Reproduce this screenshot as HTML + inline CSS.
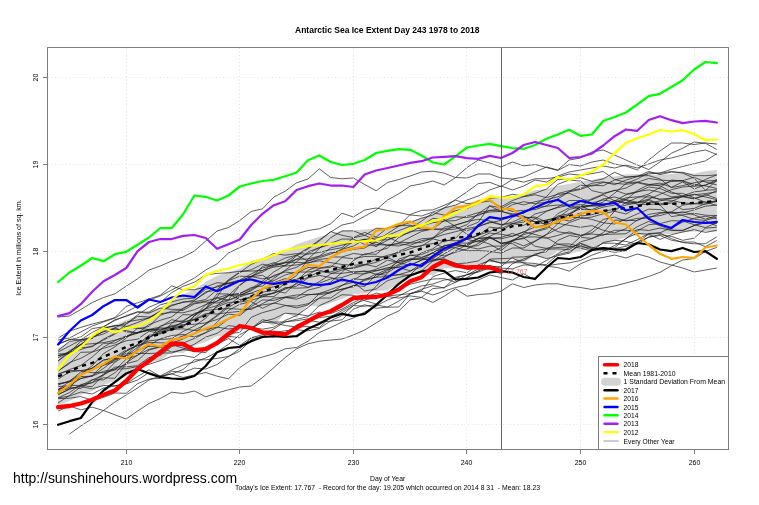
<!DOCTYPE html>
<html><head><meta charset="utf-8"><title>Antarctic Sea Ice Extent</title>
<style>html,body{margin:0;padding:0;background:#fff}svg{display:block}text{font-family:"Liberation Sans",Arial,sans-serif;fill:#000}</style></head><body>
<svg width="759" height="505" viewBox="0 0 759 505">
<rect width="759" height="505" fill="#fff"/>
<path d="M58.1 348.2 L69.5 341.5 L80.8 339.0 L92.2 335.7 L103.5 327.4 L114.9 325.0 L126.2 320.0 L137.6 315.8 L149.0 310.8 L160.3 307.4 L171.7 301.5 L183.0 294.5 L194.4 289.6 L205.7 281.7 L217.1 275.7 L228.5 271.8 L239.8 268.8 L251.2 260.9 L262.5 257.9 L273.9 255.0 L285.2 251.0 L296.6 244.3 L308.0 240.5 L319.3 236.8 L330.7 234.0 L342.0 230.5 L353.4 230.2 L364.7 229.5 L376.1 228.5 L387.5 227.4 L398.8 224.8 L410.2 221.5 L421.5 217.4 L432.9 214.0 L444.2 207.4 L455.6 204.9 L467.0 204.0 L478.3 200.7 L489.7 198.2 L501.0 198.6 L512.4 197.7 L523.7 194.0 L535.1 189.9 L546.5 189.0 L557.8 185.7 L569.2 184.0 L580.5 181.6 L591.9 179.9 L603.2 177.4 L614.6 176.5 L625.9 174.5 L637.3 174.0 L648.7 174.9 L660.0 174.9 L671.4 174.0 L682.7 172.4 L694.1 173.5 L705.4 171.2 L716.8 169.9 L716.8 231.6 L705.4 231.6 L694.1 231.6 L682.7 232.4 L671.4 234.0 L660.0 234.0 L648.7 235.8 L637.3 235.0 L625.9 237.4 L614.6 240.7 L603.2 243.5 L591.9 247.5 L580.5 251.2 L569.2 253.8 L557.8 251.2 L546.5 258.8 L535.1 256.0 L523.7 262.5 L512.4 258.8 L501.0 263.0 L489.7 262.0 L478.3 264.0 L467.0 266.0 L455.6 268.0 L444.2 268.3 L432.9 275.7 L421.5 272.5 L410.2 277.0 L398.8 283.5 L387.5 290.5 L376.1 291.0 L364.7 293.5 L353.4 294.0 L342.0 299.0 L330.7 303.0 L319.3 307.0 L308.0 305.0 L296.6 318.0 L285.2 313.0 L273.9 326.0 L262.5 321.0 L251.2 328.0 L239.8 330.0 L228.5 338.0 L217.1 336.0 L205.7 342.0 L194.4 345.5 L183.0 353.2 L171.7 352.0 L160.3 360.2 L149.0 361.9 L137.6 369.5 L126.2 376.0 L114.9 381.0 L103.5 385.0 L92.2 391.0 L80.8 395.0 L69.5 401.0 L58.1 405.0Z" fill="#d3d3d3"/>
<g fill="none" stroke="#1c1c1c" stroke-width="0.7" stroke-linejoin="round">
<path d="M58.1 317.0 L69.5 316.0 L80.8 309.5 L92.2 302.5 L103.5 297.5 L114.9 293.8 L126.2 286.2 L137.6 278.8 L149.0 270.0 L160.3 266.0 L171.7 261.0 L183.0 257.0 L194.4 251.0 L205.7 241.0 L217.1 231.0 L228.5 227.5 L239.8 220.5 L251.2 211.5 L262.5 208.8 L273.9 197.0 L285.2 191.2 L296.6 182.8 L308.0 179.0 L319.3 168.8 L330.7 177.5 L342.0 178.8 L353.4 178.0 L364.7 184.5 L376.1 190.8 L387.5 182.5 L398.8 179.5 L410.2 176.0 L421.5 172.0 L432.9 171.2 L444.2 173.2 L455.6 177.5 L467.0 167.5 L478.3 160.0 L489.7 163.0 L501.0 167.0 L512.4 162.0 L523.7 165.8 L535.1 164.5 L546.5 167.5 L557.8 170.5 L569.2 164.5 L580.5 166.0 L591.9 162.0 L603.2 160.0 L614.6 164.0 L625.9 166.0 L637.3 170.0 L648.7 160.0 L660.0 151.0 L671.4 143.0 L682.7 143.0 L694.1 144.5 L705.4 143.0 L716.8 144.0"/>
<path d="M58.1 340.0 L69.5 338.0 L80.8 332.0 L92.2 326.0 L103.5 322.0 L114.9 318.0 L126.2 312.0 L137.6 306.0 L149.0 300.0 L160.3 296.0 L171.7 290.0 L183.0 284.0 L194.4 278.0 L205.7 270.0 L217.1 263.8 L228.5 253.0 L239.8 247.5 L251.2 242.0 L262.5 240.0 L273.9 236.2 L285.2 235.0 L296.6 233.8 L308.0 230.5 L319.3 228.8 L330.7 223.8 L342.0 213.2 L353.4 217.0 L364.7 210.0 L376.1 208.0 L387.5 210.5 L398.8 212.5 L410.2 215.0 L421.5 216.0 L432.9 212.0 L444.2 208.0 L455.6 205.0 L467.0 200.0 L478.3 196.0 L489.7 190.0 L501.0 186.0 L512.4 190.0 L523.7 186.0 L535.1 180.0 L546.5 182.0 L557.8 176.0 L569.2 172.0 L580.5 170.0 L591.9 168.0 L603.2 166.0 L614.6 168.0 L625.9 165.0 L637.3 168.0 L648.7 164.0 L660.0 160.0 L671.4 158.0 L682.7 155.0 L694.1 152.0 L705.4 150.0 L716.8 154.5"/>
<path d="M58.1 352.0 L69.5 346.0 L80.8 340.0 L92.2 337.0 L103.5 334.0 L114.9 328.0 L126.2 322.0 L137.6 320.0 L149.0 318.0 L160.3 311.5 L171.7 305.0 L183.0 302.5 L194.4 300.0 L205.7 293.0 L217.1 286.0 L228.5 283.0 L239.8 280.0 L251.2 274.0 L262.5 268.0 L273.9 265.0 L285.2 262.0 L296.6 255.0 L308.0 248.0 L319.3 240.0 L330.7 232.0 L342.0 225.0 L353.4 222.5 L364.7 216.2 L376.1 210.0 L387.5 200.0 L398.8 193.8 L410.2 186.0 L421.5 183.8 L432.9 181.0 L444.2 185.0 L455.6 177.5 L467.0 178.0 L478.3 174.0 L489.7 174.0 L501.0 178.0 L512.4 179.0 L523.7 177.0 L535.1 172.0 L546.5 167.0 L557.8 170.0 L569.2 160.0 L580.5 158.0 L591.9 152.0 L603.2 150.0 L614.6 155.0 L625.9 160.0 L637.3 165.0 L648.7 169.5 L660.0 162.0 L671.4 153.2 L682.7 148.2 L694.1 142.0 L705.4 143.2 L716.8 149.5"/>
<path d="M58.1 411.0 L69.5 406.0 L80.8 409.8 L92.2 407.2 L103.5 410.5 L114.9 414.8 L126.2 419.0 L137.6 411.0 L149.0 403.5 L160.3 398.5 L171.7 392.2 L183.0 393.5 L194.4 391.0 L205.7 396.8 L217.1 393.0 L228.5 389.8 L239.8 387.0 L251.2 386.0 L262.5 377.5 L273.9 367.5 L285.2 357.5 L296.6 348.8 L308.0 343.8 L319.3 341.2 L330.7 340.0 L342.0 339.0 L353.4 335.0 L364.7 330.0 L376.1 323.0 L387.5 316.0 L398.8 311.0 L410.2 300.0 L421.5 297.5 L432.9 302.5 L444.2 296.2 L455.6 288.8 L467.0 296.2 L478.3 294.5 L489.7 293.8 L501.0 291.2 L512.4 283.8 L523.7 287.5 L535.1 285.0 L546.5 283.8 L557.8 283.8 L569.2 286.2 L580.5 287.5 L591.9 289.5 L603.2 288.0 L614.6 286.0 L625.9 283.0 L637.3 280.0 L648.7 276.5 L660.0 272.3 L671.4 265.7 L682.7 260.0 L694.1 258.5 L705.4 251.5 L716.8 247.4"/>
<path d="M69.5 434.0 L80.8 426.0 L92.2 418.5 L103.5 410.5 L114.9 402.0 L126.2 395.0 L137.6 388.0 L149.0 380.0 L160.3 376.0 L171.7 370.0 L183.0 365.0 L194.4 362.0 L205.7 358.0 L217.1 352.0 L228.5 344.3 L239.8 334.7 L251.2 328.4 L262.5 319.7 L273.9 322.1 L285.2 322.0 L296.6 319.3 L308.0 316.6 L319.3 305.6 L330.7 300.6 L342.0 294.7 L353.4 295.3 L364.7 300.7 L376.1 303.9 L387.5 295.5 L398.8 288.7 L410.2 284.2 L421.5 281.5 L432.9 279.0 L444.2 278.6 L455.6 282.3 L467.0 274.5 L478.3 271.4 L489.7 259.1 L501.0 258.7 L512.4 258.1 L523.7 263.2 L535.1 266.9 L546.5 260.4 L557.8 253.6 L569.2 247.9 L580.5 243.7 L591.9 248.3 L603.2 247.8 L614.6 248.6 L625.9 246.3 L637.3 242.4 L648.7 234.1 L660.0 233.1 L671.4 238.6 L682.7 242.5 L694.1 243.8 L705.4 243.7 L716.8 236.9"/>
<path d="M58.1 398.6 L69.5 398.2 L80.8 396.6 L92.2 400.2 L103.5 397.4 L114.9 393.0 L126.2 393.3 L137.6 383.7 L149.0 379.1 L160.3 378.3 L171.7 371.2 L183.0 372.5 L194.4 368.2 L205.7 369.0 L217.1 364.5 L228.5 356.4 L239.8 351.2 L251.2 339.9 L262.5 336.2 L273.9 332.4 L285.2 330.8 L296.6 329.8 L308.0 330.8 L319.3 328.5 L330.7 320.8 L342.0 315.6 L353.4 305.6 L364.7 306.2 L376.1 304.8 L387.5 307.2 L398.8 307.0 L410.2 293.8 L421.5 291.2 L432.9 295.0 L444.2 291.2 L455.6 287.5 L467.0 285.0 L478.3 280.0 L489.7 275.0 L501.0 277.5 L512.4 280.0 L523.7 273.8 L535.1 280.0 L546.5 266.2 L557.8 267.5 L569.2 271.2 L580.5 263.8 L591.9 259.0 L603.2 257.5 L614.6 255.0 L625.9 258.0 L637.3 254.0 L648.7 257.0 L660.0 262.0 L671.4 265.0 L682.7 268.0 L694.1 272.0 L705.4 270.0 L716.8 268.0"/>
<path d="M58.1 343.7 L69.5 339.8 L80.8 337.0 L92.2 328.6 L103.5 326.8 L114.9 320.5 L126.2 315.7 L137.6 311.7 L149.0 312.3 L160.3 304.8 L171.7 301.8 L183.0 299.0 L194.4 298.2 L205.7 289.2 L217.1 287.0 L228.5 283.3 L239.8 281.0 L251.2 276.2 L262.5 272.2 L273.9 265.3 L285.2 262.8 L296.6 259.2 L308.0 259.0 L319.3 256.1 L330.7 247.9 L342.0 245.1 L353.4 242.4 L364.7 239.4 L376.1 237.9 L387.5 235.5 L398.8 230.6 L410.2 226.2 L421.5 225.8 L432.9 222.7 L444.2 221.1 L455.6 220.6 L467.0 216.1 L478.3 212.6 L489.7 210.7 L501.0 208.6 L512.4 202.3 L523.7 204.9 L535.1 201.7 L546.5 199.7 L557.8 196.8 L569.2 191.9 L580.5 189.4 L591.9 185.1 L603.2 185.8 L614.6 179.9 L625.9 177.4 L637.3 176.3 L648.7 174.0 L660.0 173.0 L671.4 169.3 L682.7 166.5 L694.1 163.7 L705.4 160.9 L716.8 153.7"/>
<path d="M58.1 398.0 L69.5 396.0 L80.8 392.0 L92.2 394.0 L103.5 388.0 L114.9 386.0 L126.2 384.0 L137.6 380.0 L149.0 372.5 L160.3 376.2 L171.7 373.8 L183.0 377.5 L194.4 375.0 L205.7 372.5 L217.1 376.2 L228.5 378.8 L239.8 367.5 L251.2 360.0 L262.5 357.0 L273.9 353.8 L285.2 348.8 L296.6 347.5 L308.0 341.2 L319.3 332.5 L330.7 327.5 L342.0 322.0 L353.4 318.0 L364.7 312.0 L376.1 306.0 L387.5 300.0 L398.8 296.0 L410.2 290.0 L421.5 286.0 L432.9 284.0 L444.2 280.0 L455.6 278.4 L467.0 274.7 L478.3 269.2 L489.7 265.5 L501.0 268.1 L512.4 268.8 L523.7 264.9 L535.1 265.3 L546.5 264.5 L557.8 254.6 L569.2 251.9 L580.5 245.3 L591.9 250.3 L603.2 250.0 L614.6 252.4 L625.9 250.7 L637.3 242.3 L648.7 237.2 L660.0 235.5 L671.4 240.2 L682.7 242.1 L694.1 242.0 L705.4 246.7 L716.8 240.5"/>
<path d="M58.1 402.9 L69.5 395.5 L80.8 386.7 L92.2 388.8 L103.5 385.5 L114.9 385.7 L126.2 383.7 L137.6 376.4 L149.0 369.8 L160.3 376.3 L171.7 374.0 L183.0 369.5 L194.4 359.8 L205.7 359.8 L217.1 358.4 L228.5 356.5 L239.8 348.8 L251.2 338.0 L262.5 336.7 L273.9 336.9 L285.2 333.3 L296.6 325.0 L308.0 320.3 L319.3 322.2 L330.7 321.1 L342.0 319.8 L353.4 309.2 L364.7 304.7 L376.1 308.3 L387.5 307.1 L398.8 301.1 L410.2 293.8 L421.5 289.3 L432.9 285.7 L444.2 288.0 L455.6 277.2 L467.0 274.9 L478.3 272.1 L489.7 267.7 L501.0 274.2 L512.4 263.8 L523.7 258.9 L535.1 254.9 L546.5 258.6 L557.8 255.7 L569.2 253.2 L580.5 243.1 L591.9 247.4 L603.2 249.7 L614.6 247.7 L625.9 238.3 L637.3 233.3 L648.7 234.3 L660.0 239.4 L671.4 234.7 L682.7 232.0 L694.1 229.7 L705.4 232.4 L716.8 230.3"/>
<path d="M58.1 338.1 L69.5 331.2 L80.8 327.4 L92.2 324.0 L103.5 321.2 L114.9 317.6 L126.2 306.3 L137.6 302.8 L149.0 299.0 L160.3 295.2 L171.7 285.9 L183.0 289.9 L194.4 289.7 L205.7 287.0 L217.1 282.7 L228.5 283.8 L239.8 281.4 L251.2 276.5 L262.5 278.9 L273.9 276.6 L285.2 270.7 L296.6 267.3 L308.0 260.8 L319.3 256.4 L330.7 252.7 L342.0 251.9 L353.4 249.3 L364.7 248.0 L376.1 241.3 L387.5 233.5 L398.8 226.3 L410.2 222.4 L421.5 218.3 L432.9 215.0 L444.2 207.8 L455.6 199.5 L467.0 191.8 L478.3 183.6 L489.7 182.3 L501.0 186.6 L512.4 179.5 L523.7 182.2 L535.1 178.8 L546.5 178.6 L557.8 177.1 L569.2 174.0 L580.5 175.2 L591.9 173.6 L603.2 171.5 L614.6 179.5 L625.9 182.4 L637.3 182.2 L648.7 184.3 L660.0 185.8 L671.4 191.9 L682.7 196.1 L694.1 198.6 L705.4 195.7 L716.8 190.7"/>
<path d="M58.1 344.6 L69.5 339.4 L80.8 339.8 L92.2 332.4 L103.5 326.8 L114.9 319.7 L126.2 316.4 L137.6 312.2 L149.0 313.2 L160.3 308.1 L171.7 309.4 L183.0 309.3 L194.4 300.7 L205.7 291.8 L217.1 290.1 L228.5 280.8 L239.8 276.2 L251.2 276.5 L262.5 270.6 L273.9 263.6 L285.2 258.0 L296.6 255.2 L308.0 261.2 L319.3 257.7 L330.7 254.1 L342.0 249.2 L353.4 241.7 L364.7 239.2 L376.1 246.6 L387.5 240.1 L398.8 235.9 L410.2 228.1 L421.5 221.2 L432.9 212.7 L444.2 215.1 L455.6 210.7 L467.0 208.5 L478.3 203.6 L489.7 198.3 L501.0 197.5 L512.4 194.3 L523.7 196.3 L535.1 193.3 L546.5 189.0 L557.8 179.4 L569.2 179.1 L580.5 177.7 L591.9 181.4 L603.2 178.9 L614.6 172.3 L625.9 177.0 L637.3 176.1 L648.7 175.6 L660.0 179.0 L671.4 187.5 L682.7 185.7 L694.1 182.7 L705.4 180.9 L716.8 180.6"/>
<path d="M58.1 350.6 L69.5 341.4 L80.8 339.9 L92.2 338.4 L103.5 327.7 L114.9 326.1 L126.2 323.9 L137.6 314.9 L149.0 307.2 L160.3 302.5 L171.7 292.6 L183.0 286.3 L194.4 282.3 L205.7 274.8 L217.1 273.4 L228.5 272.8 L239.8 271.3 L251.2 271.1 L262.5 270.4 L273.9 267.1 L285.2 265.6 L296.6 259.2 L308.0 253.5 L319.3 247.8 L330.7 244.2 L342.0 242.7 L353.4 242.4 L364.7 240.4 L376.1 244.5 L387.5 245.1 L398.8 243.8 L410.2 245.3 L421.5 240.7 L432.9 238.6 L444.2 227.2 L455.6 225.1 L467.0 221.7 L478.3 214.4 L489.7 212.0 L501.0 211.4 L512.4 204.7 L523.7 201.7 L535.1 203.7 L546.5 202.1 L557.8 193.5 L569.2 190.7 L580.5 188.6 L591.9 183.2 L603.2 181.8 L614.6 184.7 L625.9 180.1 L637.3 176.6 L648.7 171.4 L660.0 174.6 L671.4 172.1 L682.7 172.3 L694.1 175.6 L705.4 175.7 L716.8 174.9"/>
<path d="M58.1 371.0 L69.5 362.5 L80.8 358.3 L92.2 352.0 L103.5 348.3 L114.9 345.0 L126.2 340.8 L137.6 339.2 L149.0 331.2 L160.3 333.4 L171.7 329.6 L183.0 326.6 L194.4 315.7 L205.7 308.6 L217.1 297.9 L228.5 294.5 L239.8 293.8 L251.2 288.6 L262.5 281.2 L273.9 271.9 L285.2 265.3 L296.6 255.9 L308.0 249.1 L319.3 240.9 L330.7 231.7 L342.0 235.3 L353.4 237.6 L364.7 232.4 L376.1 237.0 L387.5 227.8 L398.8 225.9 L410.2 214.5 L421.5 210.4 L432.9 209.9 L444.2 205.3 L455.6 200.2 L467.0 203.6 L478.3 202.6 L489.7 201.0 L501.0 206.9 L512.4 200.5 L523.7 196.7 L535.1 194.8 L546.5 197.6 L557.8 194.3 L569.2 193.2 L580.5 198.3 L591.9 203.1 L603.2 199.9 L614.6 202.1 L625.9 197.9 L637.3 196.8 L648.7 197.0 L660.0 199.1 L671.4 198.2 L682.7 196.8 L694.1 198.9 L705.4 194.5 L716.8 198.5"/>
<path d="M58.1 355.7 L69.5 351.8 L80.8 344.6 L92.2 336.8 L103.5 328.6 L114.9 325.3 L126.2 326.2 L137.6 328.7 L149.0 326.5 L160.3 315.2 L171.7 311.2 L183.0 310.4 L194.4 303.9 L205.7 301.9 L217.1 303.1 L228.5 299.7 L239.8 285.5 L251.2 276.6 L262.5 275.3 L273.9 282.6 L285.2 278.6 L296.6 280.8 L308.0 270.4 L319.3 266.0 L330.7 256.9 L342.0 257.0 L353.4 253.5 L364.7 254.8 L376.1 251.3 L387.5 248.1 L398.8 237.5 L410.2 231.5 L421.5 230.3 L432.9 229.0 L444.2 230.1 L455.6 229.0 L467.0 224.6 L478.3 213.6 L489.7 205.9 L501.0 211.5 L512.4 213.8 L523.7 213.4 L535.1 204.7 L546.5 196.6 L557.8 184.3 L569.2 180.0 L580.5 181.0 L591.9 190.6 L603.2 193.3 L614.6 190.5 L625.9 188.1 L637.3 182.2 L648.7 178.5 L660.0 180.1 L671.4 180.8 L682.7 180.9 L694.1 186.3 L705.4 179.4 L716.8 174.9"/>
<path d="M58.1 357.7 L69.5 351.9 L80.8 349.5 L92.2 345.9 L103.5 340.1 L114.9 334.1 L126.2 326.6 L137.6 322.5 L149.0 317.8 L160.3 311.0 L171.7 305.9 L183.0 301.8 L194.4 301.8 L205.7 299.5 L217.1 289.6 L228.5 279.7 L239.8 272.0 L251.2 269.8 L262.5 264.2 L273.9 266.4 L285.2 262.6 L296.6 262.3 L308.0 263.0 L319.3 259.4 L330.7 258.1 L342.0 249.4 L353.4 246.0 L364.7 239.4 L376.1 242.5 L387.5 245.2 L398.8 246.0 L410.2 243.0 L421.5 242.5 L432.9 237.6 L444.2 231.2 L455.6 224.9 L467.0 221.5 L478.3 219.3 L489.7 220.9 L501.0 224.5 L512.4 223.7 L523.7 225.4 L535.1 218.9 L546.5 211.3 L557.8 207.0 L569.2 200.5 L580.5 200.6 L591.9 199.8 L603.2 194.9 L614.6 200.9 L625.9 202.6 L637.3 197.7 L648.7 194.0 L660.0 187.4 L671.4 180.1 L682.7 180.9 L694.1 184.3 L705.4 185.9 L716.8 188.5"/>
<path d="M58.1 353.9 L69.5 353.9 L80.8 344.7 L92.2 343.7 L103.5 342.6 L114.9 340.3 L126.2 337.0 L137.6 332.4 L149.0 329.4 L160.3 327.0 L171.7 319.7 L183.0 322.1 L194.4 318.9 L205.7 308.4 L217.1 293.8 L228.5 294.0 L239.8 299.6 L251.2 297.9 L262.5 292.1 L273.9 290.4 L285.2 293.1 L296.6 282.9 L308.0 277.1 L319.3 271.9 L330.7 271.9 L342.0 268.5 L353.4 268.4 L364.7 265.1 L376.1 262.3 L387.5 257.3 L398.8 251.4 L410.2 246.6 L421.5 246.2 L432.9 238.8 L444.2 241.8 L455.6 238.1 L467.0 226.7 L478.3 222.2 L489.7 205.8 L501.0 207.7 L512.4 211.4 L523.7 210.4 L535.1 209.6 L546.5 205.8 L557.8 198.9 L569.2 191.7 L580.5 185.2 L591.9 186.1 L603.2 182.5 L614.6 183.3 L625.9 184.3 L637.3 182.7 L648.7 185.3 L660.0 185.0 L671.4 181.4 L682.7 180.7 L694.1 177.2 L705.4 182.0 L716.8 184.9"/>
<path d="M58.1 391.1 L69.5 388.6 L80.8 374.1 L92.2 365.8 L103.5 353.6 L114.9 346.8 L126.2 338.1 L137.6 328.1 L149.0 329.5 L160.3 330.0 L171.7 326.6 L183.0 327.4 L194.4 316.2 L205.7 304.8 L217.1 296.9 L228.5 280.4 L239.8 272.5 L251.2 264.4 L262.5 259.3 L273.9 253.4 L285.2 255.2 L296.6 253.6 L308.0 254.2 L319.3 252.4 L330.7 249.7 L342.0 247.7 L353.4 237.8 L364.7 235.4 L376.1 228.3 L387.5 228.5 L398.8 225.8 L410.2 225.2 L421.5 229.3 L432.9 229.3 L444.2 228.7 L455.6 227.1 L467.0 230.8 L478.3 226.8 L489.7 221.9 L501.0 224.8 L512.4 222.1 L523.7 217.0 L535.1 218.1 L546.5 225.8 L557.8 231.7 L569.2 233.5 L580.5 235.2 L591.9 232.8 L603.2 224.0 L614.6 211.2 L625.9 202.4 L637.3 202.3 L648.7 199.1 L660.0 205.0 L671.4 202.9 L682.7 209.6 L694.1 208.4 L705.4 203.7 L716.8 200.6"/>
<path d="M58.1 360.9 L69.5 350.7 L80.8 344.3 L92.2 336.5 L103.5 331.9 L114.9 327.9 L126.2 331.8 L137.6 333.1 L149.0 329.6 L160.3 331.5 L171.7 328.2 L183.0 326.0 L194.4 319.4 L205.7 315.5 L217.1 306.9 L228.5 302.4 L239.8 302.0 L251.2 300.3 L262.5 296.9 L273.9 292.6 L285.2 283.1 L296.6 275.5 L308.0 259.1 L319.3 248.7 L330.7 237.7 L342.0 231.0 L353.4 230.8 L364.7 235.3 L376.1 240.2 L387.5 239.7 L398.8 235.5 L410.2 232.5 L421.5 225.9 L432.9 218.3 L444.2 219.7 L455.6 226.4 L467.0 234.1 L478.3 240.4 L489.7 244.1 L501.0 250.6 L512.4 241.4 L523.7 233.6 L535.1 222.5 L546.5 219.9 L557.8 217.9 L569.2 209.4 L580.5 207.0 L591.9 205.6 L603.2 202.1 L614.6 193.2 L625.9 183.6 L637.3 179.0 L648.7 172.7 L660.0 173.3 L671.4 171.5 L682.7 173.1 L694.1 178.2 L705.4 190.2 L716.8 189.7"/>
<path d="M58.1 374.1 L69.5 370.5 L80.8 370.6 L92.2 368.6 L103.5 365.3 L114.9 361.6 L126.2 351.3 L137.6 344.5 L149.0 335.2 L160.3 334.0 L171.7 323.3 L183.0 314.6 L194.4 315.0 L205.7 308.5 L217.1 300.9 L228.5 295.4 L239.8 293.4 L251.2 287.5 L262.5 286.0 L273.9 278.4 L285.2 270.2 L296.6 261.8 L308.0 251.9 L319.3 247.6 L330.7 243.4 L342.0 239.0 L353.4 239.2 L364.7 244.4 L376.1 246.1 L387.5 236.9 L398.8 242.3 L410.2 242.6 L421.5 238.8 L432.9 238.0 L444.2 234.5 L455.6 231.7 L467.0 228.6 L478.3 226.3 L489.7 222.9 L501.0 220.4 L512.4 214.8 L523.7 218.1 L535.1 217.0 L546.5 222.0 L557.8 218.7 L569.2 221.0 L580.5 216.1 L591.9 214.7 L603.2 211.3 L614.6 209.2 L625.9 205.1 L637.3 202.9 L648.7 195.2 L660.0 199.9 L671.4 200.3 L682.7 202.9 L694.1 203.8 L705.4 204.2 L716.8 201.6"/>
<path d="M58.1 355.8 L69.5 353.4 L80.8 347.7 L92.2 346.8 L103.5 339.0 L114.9 333.4 L126.2 324.2 L137.6 316.3 L149.0 317.0 L160.3 313.8 L171.7 312.4 L183.0 312.8 L194.4 309.8 L205.7 304.5 L217.1 301.2 L228.5 295.8 L239.8 294.9 L251.2 293.4 L262.5 296.7 L273.9 296.6 L285.2 288.2 L296.6 286.2 L308.0 277.9 L319.3 275.4 L330.7 277.5 L342.0 281.1 L353.4 280.1 L364.7 273.3 L376.1 269.1 L387.5 265.0 L398.8 260.7 L410.2 259.5 L421.5 258.6 L432.9 260.5 L444.2 257.2 L455.6 250.9 L467.0 244.7 L478.3 238.2 L489.7 233.1 L501.0 234.2 L512.4 236.3 L523.7 231.8 L535.1 227.0 L546.5 224.9 L557.8 213.6 L569.2 207.8 L580.5 206.0 L591.9 210.8 L603.2 207.1 L614.6 205.0 L625.9 199.8 L637.3 190.5 L648.7 184.6 L660.0 183.1 L671.4 187.3 L682.7 182.0 L694.1 188.9 L705.4 184.9 L716.8 181.2"/>
<path d="M58.1 370.8 L69.5 363.6 L80.8 352.3 L92.2 352.0 L103.5 343.3 L114.9 343.1 L126.2 336.6 L137.6 333.2 L149.0 324.6 L160.3 320.3 L171.7 316.9 L183.0 308.0 L194.4 303.1 L205.7 301.0 L217.1 297.9 L228.5 300.2 L239.8 295.0 L251.2 290.8 L262.5 283.3 L273.9 280.6 L285.2 274.9 L296.6 272.1 L308.0 272.0 L319.3 270.2 L330.7 273.2 L342.0 273.3 L353.4 271.8 L364.7 271.6 L376.1 270.4 L387.5 268.8 L398.8 261.6 L410.2 255.0 L421.5 257.3 L432.9 253.2 L444.2 256.0 L455.6 252.3 L467.0 248.9 L478.3 243.5 L489.7 236.3 L501.0 231.2 L512.4 223.7 L523.7 219.9 L535.1 221.7 L546.5 220.5 L557.8 217.0 L569.2 215.4 L580.5 206.9 L591.9 198.7 L603.2 194.3 L614.6 190.2 L625.9 194.1 L637.3 191.6 L648.7 189.9 L660.0 192.2 L671.4 196.9 L682.7 195.8 L694.1 191.9 L705.4 190.5 L716.8 180.2"/>
<path d="M58.1 361.1 L69.5 352.5 L80.8 341.3 L92.2 338.3 L103.5 331.2 L114.9 329.1 L126.2 330.6 L137.6 333.0 L149.0 330.0 L160.3 329.2 L171.7 326.8 L183.0 322.5 L194.4 319.6 L205.7 313.4 L217.1 314.0 L228.5 312.5 L239.8 311.4 L251.2 308.2 L262.5 304.9 L273.9 303.4 L285.2 297.6 L296.6 297.1 L308.0 290.2 L319.3 287.2 L330.7 282.1 L342.0 272.5 L353.4 260.5 L364.7 253.8 L376.1 254.3 L387.5 245.4 L398.8 243.1 L410.2 237.2 L421.5 231.5 L432.9 228.8 L444.2 220.7 L455.6 216.8 L467.0 217.4 L478.3 215.6 L489.7 210.2 L501.0 211.1 L512.4 215.0 L523.7 216.1 L535.1 222.1 L546.5 224.1 L557.8 223.3 L569.2 225.4 L580.5 227.3 L591.9 225.6 L603.2 230.3 L614.6 232.9 L625.9 228.6 L637.3 219.9 L648.7 216.8 L660.0 215.6 L671.4 212.2 L682.7 212.9 L694.1 209.9 L705.4 206.2 L716.8 205.0"/>
<path d="M58.1 389.6 L69.5 381.5 L80.8 371.9 L92.2 368.2 L103.5 359.8 L114.9 358.7 L126.2 351.1 L137.6 345.5 L149.0 340.9 L160.3 339.5 L171.7 338.7 L183.0 331.5 L194.4 326.1 L205.7 318.2 L217.1 305.5 L228.5 295.5 L239.8 284.9 L251.2 277.3 L262.5 266.6 L273.9 262.7 L285.2 266.2 L296.6 264.9 L308.0 262.8 L319.3 260.8 L330.7 262.6 L342.0 264.5 L353.4 265.2 L364.7 264.8 L376.1 259.0 L387.5 255.3 L398.8 252.6 L410.2 248.8 L421.5 245.4 L432.9 243.5 L444.2 247.5 L455.6 247.8 L467.0 250.8 L478.3 250.6 L489.7 251.3 L501.0 253.1 L512.4 248.0 L523.7 248.0 L535.1 241.5 L546.5 234.6 L557.8 228.7 L569.2 222.5 L580.5 218.6 L591.9 217.0 L603.2 213.8 L614.6 211.2 L625.9 214.0 L637.3 207.8 L648.7 199.3 L660.0 194.3 L671.4 189.7 L682.7 187.0 L694.1 186.1 L705.4 185.3 L716.8 179.4"/>
<path d="M58.1 384.0 L69.5 382.0 L80.8 375.2 L92.2 368.0 L103.5 360.4 L114.9 357.2 L126.2 349.8 L137.6 345.7 L149.0 342.4 L160.3 342.8 L171.7 343.2 L183.0 338.9 L194.4 333.8 L205.7 323.5 L217.1 315.2 L228.5 305.4 L239.8 296.8 L251.2 293.1 L262.5 288.9 L273.9 286.8 L285.2 282.9 L296.6 279.3 L308.0 274.6 L319.3 268.4 L330.7 267.3 L342.0 257.6 L353.4 258.6 L364.7 256.5 L376.1 256.3 L387.5 257.4 L398.8 262.8 L410.2 265.4 L421.5 260.0 L432.9 258.2 L444.2 251.0 L455.6 244.2 L467.0 246.3 L478.3 238.6 L489.7 237.0 L501.0 243.4 L512.4 241.6 L523.7 245.9 L535.1 240.9 L546.5 234.2 L557.8 223.8 L569.2 213.9 L580.5 208.7 L591.9 205.0 L603.2 198.9 L614.6 197.0 L625.9 200.0 L637.3 204.4 L648.7 204.4 L660.0 203.9 L671.4 201.5 L682.7 196.4 L694.1 194.3 L705.4 197.0 L716.8 199.6"/>
<path d="M58.1 389.5 L69.5 385.3 L80.8 385.5 L92.2 386.7 L103.5 374.9 L114.9 368.6 L126.2 364.2 L137.6 348.7 L149.0 338.9 L160.3 326.0 L171.7 322.5 L183.0 320.7 L194.4 314.1 L205.7 308.9 L217.1 305.6 L228.5 300.4 L239.8 296.3 L251.2 289.6 L262.5 282.9 L273.9 275.4 L285.2 272.0 L296.6 273.3 L308.0 267.5 L319.3 268.0 L330.7 266.0 L342.0 268.1 L353.4 272.6 L364.7 270.8 L376.1 274.3 L387.5 269.3 L398.8 266.8 L410.2 265.1 L421.5 260.2 L432.9 252.4 L444.2 248.0 L455.6 243.7 L467.0 246.7 L478.3 249.0 L489.7 246.1 L501.0 246.1 L512.4 240.4 L523.7 234.6 L535.1 231.0 L546.5 227.5 L557.8 215.9 L569.2 213.8 L580.5 206.7 L591.9 205.4 L603.2 205.8 L614.6 200.6 L625.9 203.7 L637.3 202.6 L648.7 202.7 L660.0 201.0 L671.4 198.2 L682.7 196.6 L694.1 194.8 L705.4 193.6 L716.8 191.9"/>
<path d="M58.1 374.4 L69.5 369.5 L80.8 365.5 L92.2 357.0 L103.5 347.0 L114.9 340.6 L126.2 335.8 L137.6 332.4 L149.0 330.2 L160.3 327.9 L171.7 328.3 L183.0 321.8 L194.4 313.4 L205.7 310.5 L217.1 309.2 L228.5 308.6 L239.8 309.2 L251.2 309.5 L262.5 303.6 L273.9 298.0 L285.2 297.4 L296.6 299.2 L308.0 295.0 L319.3 293.4 L330.7 292.1 L342.0 289.1 L353.4 286.8 L364.7 279.1 L376.1 277.3 L387.5 276.5 L398.8 274.6 L410.2 271.3 L421.5 263.6 L432.9 258.3 L444.2 251.1 L455.6 245.3 L467.0 239.3 L478.3 235.5 L489.7 227.1 L501.0 228.5 L512.4 223.8 L523.7 222.1 L535.1 213.9 L546.5 211.0 L557.8 207.6 L569.2 205.2 L580.5 209.5 L591.9 209.6 L603.2 205.0 L614.6 202.6 L625.9 199.5 L637.3 202.4 L648.7 200.5 L660.0 205.2 L671.4 216.6 L682.7 214.9 L694.1 213.3 L705.4 215.2 L716.8 215.7"/>
<path d="M58.1 383.7 L69.5 381.6 L80.8 378.6 L92.2 376.0 L103.5 368.4 L114.9 359.6 L126.2 356.4 L137.6 350.2 L149.0 346.3 L160.3 346.4 L171.7 344.8 L183.0 348.0 L194.4 351.5 L205.7 352.6 L217.1 342.2 L228.5 333.5 L239.8 332.5 L251.2 317.3 L262.5 312.6 L273.9 309.6 L285.2 305.6 L296.6 306.0 L308.0 303.7 L319.3 298.1 L330.7 298.0 L342.0 290.3 L353.4 285.4 L364.7 286.5 L376.1 274.9 L387.5 272.3 L398.8 259.1 L410.2 255.4 L421.5 254.6 L432.9 250.1 L444.2 246.2 L455.6 242.8 L467.0 239.1 L478.3 235.0 L489.7 231.6 L501.0 226.9 L512.4 217.2 L523.7 212.8 L535.1 207.6 L546.5 206.2 L557.8 205.0 L569.2 205.6 L580.5 204.6 L591.9 206.1 L603.2 205.7 L614.6 201.0 L625.9 194.8 L637.3 192.1 L648.7 187.0 L660.0 188.5 L671.4 193.3 L682.7 193.4 L694.1 197.7 L705.4 202.2 L716.8 201.0"/>
<path d="M58.1 385.0 L69.5 380.7 L80.8 374.4 L92.2 369.6 L103.5 364.9 L114.9 358.4 L126.2 355.7 L137.6 347.4 L149.0 337.7 L160.3 330.5 L171.7 325.4 L183.0 324.6 L194.4 324.3 L205.7 322.9 L217.1 319.5 L228.5 314.1 L239.8 315.5 L251.2 306.5 L262.5 299.9 L273.9 300.4 L285.2 296.9 L296.6 295.0 L308.0 294.4 L319.3 294.6 L330.7 293.1 L342.0 285.5 L353.4 278.8 L364.7 279.8 L376.1 274.0 L387.5 275.4 L398.8 274.7 L410.2 275.2 L421.5 270.8 L432.9 261.1 L444.2 253.8 L455.6 247.3 L467.0 244.4 L478.3 240.9 L489.7 236.9 L501.0 243.8 L512.4 240.4 L523.7 238.6 L535.1 231.9 L546.5 228.8 L557.8 219.7 L569.2 217.6 L580.5 217.4 L591.9 219.4 L603.2 222.8 L614.6 224.0 L625.9 219.0 L637.3 213.9 L648.7 209.2 L660.0 209.6 L671.4 213.6 L682.7 211.8 L694.1 214.9 L705.4 219.2 L716.8 215.5"/>
<path d="M58.1 391.7 L69.5 387.0 L80.8 388.5 L92.2 380.1 L103.5 374.8 L114.9 367.0 L126.2 366.9 L137.6 365.7 L149.0 357.6 L160.3 355.5 L171.7 346.6 L183.0 343.2 L194.4 338.4 L205.7 332.7 L217.1 327.5 L228.5 319.0 L239.8 314.0 L251.2 305.0 L262.5 294.8 L273.9 293.1 L285.2 289.3 L296.6 283.7 L308.0 287.2 L319.3 281.7 L330.7 273.9 L342.0 270.0 L353.4 267.4 L364.7 264.3 L376.1 266.8 L387.5 260.2 L398.8 262.4 L410.2 259.6 L421.5 259.2 L432.9 256.4 L444.2 245.3 L455.6 245.4 L467.0 246.7 L478.3 245.6 L489.7 238.1 L501.0 237.5 L512.4 233.4 L523.7 237.2 L535.1 236.9 L546.5 238.3 L557.8 235.4 L569.2 231.9 L580.5 235.4 L591.9 234.0 L603.2 235.2 L614.6 230.3 L625.9 230.3 L637.3 231.0 L648.7 224.7 L660.0 223.6 L671.4 220.7 L682.7 221.0 L694.1 224.6 L705.4 227.6 L716.8 222.6"/>
<path d="M58.1 379.0 L69.5 372.0 L80.8 370.6 L92.2 372.7 L103.5 372.6 L114.9 370.1 L126.2 359.1 L137.6 355.3 L149.0 345.3 L160.3 338.8 L171.7 335.5 L183.0 334.5 L194.4 337.0 L205.7 332.7 L217.1 322.2 L228.5 310.4 L239.8 304.3 L251.2 301.5 L262.5 308.3 L273.9 302.9 L285.2 305.3 L296.6 307.9 L308.0 305.0 L319.3 293.6 L330.7 289.5 L342.0 285.2 L353.4 282.2 L364.7 291.0 L376.1 289.0 L387.5 280.6 L398.8 277.4 L410.2 274.8 L421.5 263.7 L432.9 261.1 L444.2 258.6 L455.6 264.0 L467.0 262.9 L478.3 260.9 L489.7 252.9 L501.0 247.8 L512.4 240.4 L523.7 237.9 L535.1 246.3 L546.5 248.3 L557.8 247.5 L569.2 246.9 L580.5 236.7 L591.9 230.0 L603.2 219.4 L614.6 217.1 L625.9 221.0 L637.3 218.3 L648.7 218.0 L660.0 213.3 L671.4 211.9 L682.7 205.2 L694.1 203.5 L705.4 202.1 L716.8 205.5"/>
<path d="M58.1 394.7 L69.5 388.9 L80.8 386.3 L92.2 382.4 L103.5 374.3 L114.9 362.3 L126.2 354.9 L137.6 344.2 L149.0 337.6 L160.3 332.3 L171.7 329.5 L183.0 328.8 L194.4 330.5 L205.7 329.7 L217.1 327.1 L228.5 329.0 L239.8 327.7 L251.2 328.8 L262.5 321.6 L273.9 318.7 L285.2 313.2 L296.6 314.1 L308.0 315.9 L319.3 312.1 L330.7 313.5 L342.0 309.2 L353.4 302.5 L364.7 297.1 L376.1 286.5 L387.5 272.8 L398.8 265.4 L410.2 260.7 L421.5 252.8 L432.9 248.8 L444.2 240.3 L455.6 240.8 L467.0 239.3 L478.3 242.0 L489.7 238.2 L501.0 238.8 L512.4 236.1 L523.7 231.9 L535.1 234.5 L546.5 237.5 L557.8 244.1 L569.2 243.9 L580.5 246.6 L591.9 248.5 L603.2 243.3 L614.6 243.2 L625.9 245.1 L637.3 239.6 L648.7 233.5 L660.0 232.8 L671.4 227.6 L682.7 222.2 L694.1 218.4 L705.4 216.2 L716.8 218.8"/>
<path d="M58.1 394.5 L69.5 389.3 L80.8 385.5 L92.2 379.7 L103.5 379.9 L114.9 372.7 L126.2 362.8 L137.6 355.2 L149.0 349.3 L160.3 346.5 L171.7 339.9 L183.0 336.0 L194.4 330.0 L205.7 324.5 L217.1 316.0 L228.5 307.4 L239.8 300.6 L251.2 296.5 L262.5 295.5 L273.9 293.3 L285.2 287.6 L296.6 288.2 L308.0 287.7 L319.3 283.2 L330.7 278.9 L342.0 277.5 L353.4 273.6 L364.7 273.9 L376.1 271.0 L387.5 267.6 L398.8 267.6 L410.2 270.8 L421.5 267.0 L432.9 259.2 L444.2 259.8 L455.6 263.1 L467.0 269.4 L478.3 267.1 L489.7 259.7 L501.0 263.3 L512.4 262.7 L523.7 262.7 L535.1 263.5 L546.5 265.8 L557.8 264.1 L569.2 262.9 L580.5 260.5 L591.9 255.2 L603.2 251.1 L614.6 245.5 L625.9 238.9 L637.3 229.4 L648.7 230.5 L660.0 228.0 L671.4 230.5 L682.7 230.7 L694.1 225.4 L705.4 223.0 L716.8 223.5"/>
<path d="M58.1 389.9 L69.5 385.4 L80.8 376.6 L92.2 376.2 L103.5 371.3 L114.9 369.2 L126.2 368.7 L137.6 366.6 L149.0 364.3 L160.3 360.6 L171.7 356.4 L183.0 355.5 L194.4 357.6 L205.7 349.1 L217.1 344.3 L228.5 336.3 L239.8 337.8 L251.2 327.2 L262.5 329.2 L273.9 327.2 L285.2 320.4 L296.6 315.5 L308.0 307.5 L319.3 298.1 L330.7 291.7 L342.0 289.2 L353.4 285.9 L364.7 280.5 L376.1 277.1 L387.5 270.3 L398.8 264.3 L410.2 258.5 L421.5 257.9 L432.9 252.7 L444.2 246.1 L455.6 242.9 L467.0 243.2 L478.3 238.4 L489.7 237.8 L501.0 242.9 L512.4 243.7 L523.7 250.0 L535.1 250.7 L546.5 248.7 L557.8 244.3 L569.2 246.2 L580.5 248.1 L591.9 251.2 L603.2 242.5 L614.6 240.3 L625.9 241.4 L637.3 244.2 L648.7 237.0 L660.0 234.6 L671.4 236.4 L682.7 240.3 L694.1 238.2 L705.4 228.1 L716.8 227.3"/>
<path d="M58.1 386.6 L69.5 385.7 L80.8 378.5 L92.2 375.5 L103.5 364.8 L114.9 359.8 L126.2 353.2 L137.6 353.4 L149.0 353.5 L160.3 352.9 L171.7 353.1 L183.0 349.5 L194.4 344.2 L205.7 337.1 L217.1 333.3 L228.5 325.6 L239.8 327.0 L251.2 328.0 L262.5 322.3 L273.9 322.9 L285.2 325.5 L296.6 327.0 L308.0 326.6 L319.3 327.8 L330.7 316.9 L342.0 310.6 L353.4 304.2 L364.7 299.9 L376.1 297.4 L387.5 296.5 L398.8 298.1 L410.2 295.9 L421.5 297.4 L432.9 288.6 L444.2 287.6 L455.6 282.1 L467.0 277.6 L478.3 270.9 L489.7 266.8 L501.0 266.7 L512.4 257.2 L523.7 256.9 L535.1 255.3 L546.5 249.3 L557.8 248.8 L569.2 249.7 L580.5 241.8 L591.9 238.7 L603.2 232.7 L614.6 220.1 L625.9 220.3 L637.3 220.7 L648.7 214.4 L660.0 212.5 L671.4 212.3 L682.7 215.5 L694.1 219.4 L705.4 220.4 L716.8 217.1"/>
<path d="M58.1 397.9 L69.5 392.6 L80.8 384.5 L92.2 382.8 L103.5 377.8 L114.9 378.3 L126.2 363.7 L137.6 360.7 L149.0 350.0 L160.3 347.0 L171.7 352.1 L183.0 349.6 L194.4 351.4 L205.7 347.0 L217.1 344.1 L228.5 338.5 L239.8 345.4 L251.2 337.7 L262.5 334.8 L273.9 328.9 L285.2 321.7 L296.6 320.7 L308.0 318.9 L319.3 317.7 L330.7 316.1 L342.0 312.7 L353.4 305.7 L364.7 297.8 L376.1 293.0 L387.5 295.9 L398.8 294.9 L410.2 293.6 L421.5 290.9 L432.9 276.6 L444.2 273.0 L455.6 270.5 L467.0 272.8 L478.3 264.8 L489.7 260.6 L501.0 262.8 L512.4 261.5 L523.7 260.5 L535.1 254.0 L546.5 251.7 L557.8 240.4 L569.2 235.5 L580.5 237.3 L591.9 238.4 L603.2 234.5 L614.6 234.1 L625.9 233.8 L637.3 226.7 L648.7 221.4 L660.0 225.7 L671.4 230.0 L682.7 230.3 L694.1 225.8 L705.4 220.8 L716.8 226.0"/>
</g>
<g stroke="#e2e2e2" stroke-width="1" stroke-dasharray="1 2.5" fill="none">
<path d="M126.5 48V449"/>
<path d="M239.5 48V449"/>
<path d="M353.5 48V449"/>
<path d="M466.5 48V449"/>
<path d="M580.5 48V449"/>
<path d="M694.5 48V449"/>
<path d="M48 424.5H728"/>
<path d="M48 337.5H728"/>
<path d="M48 251.5H728"/>
<path d="M48 164.5H728"/>
<path d="M48 77.5H728"/>
</g>
<path d="M58.1 376.5 L69.5 371.5 L80.8 366.2 L92.2 363.0 L103.5 356.8 L114.9 352.0 L126.2 347.0 L137.6 343.0 L149.0 337.2 L160.3 333.8 L171.7 329.5 L183.0 326.0 L194.4 321.0 L205.7 315.5 L217.1 310.0 L228.5 305.0 L239.8 301.2 L251.2 296.5 L262.5 292.0 L273.9 288.0 L285.2 283.8 L296.6 280.0 L308.0 276.2 L319.3 273.0 L330.7 270.0 L342.0 267.0 L353.4 263.8 L364.7 262.0 L376.1 260.0 L387.5 257.5 L398.8 255.0 L410.2 252.5 L421.5 248.5 L432.9 244.5 L444.2 240.0 L455.6 237.5 L467.0 237.0 L478.3 234.0 L489.7 229.5 L501.0 230.5 L512.4 226.2 L523.7 225.0 L535.1 223.0 L546.5 222.2 L557.8 218.0 L569.2 216.2 L580.5 214.0 L591.9 213.8 L603.2 211.0 L614.6 209.2 L625.9 208.0 L637.3 206.2 L648.7 203.8 L660.0 203.8 L671.4 203.8 L682.7 203.2 L694.1 203.0 L705.4 202.0 L716.8 200.8" fill="none" stroke="#000" stroke-width="2.4" stroke-dasharray="4.2 4.5"/>
<path d="M58.1 424.8 L69.5 421.2 L80.8 418.0 L92.2 402.2 L103.5 390.5 L114.9 382.2 L126.2 373.5 L137.6 369.0 L149.0 373.5 L160.3 377.2 L171.7 378.5 L183.0 379.2 L194.4 376.0 L205.7 366.0 L217.1 352.2 L228.5 348.0 L239.8 346.8 L251.2 341.2 L262.5 337.0 L273.9 336.2 L285.2 337.0 L296.6 336.2 L308.0 328.8 L319.3 323.8 L330.7 317.5 L342.0 313.8 L353.4 316.2 L364.7 313.8 L376.1 305.0 L387.5 294.5 L398.8 283.8 L410.2 275.5 L421.5 271.5 L432.9 269.5 L444.2 271.2 L455.6 279.5 L467.0 278.8 L478.3 277.5 L489.7 272.5 L501.0 271.2 L512.4 272.5 L523.7 277.0 L535.1 278.8 L546.5 267.5 L557.8 258.0 L569.2 259.0 L580.5 257.0 L591.9 250.0 L603.2 248.2 L614.6 249.5 L625.9 249.5 L637.3 243.0 L648.7 244.5 L660.0 249.5 L671.4 251.2 L682.7 248.0 L694.1 252.0 L705.4 251.2 L716.8 258.8" fill="none" stroke="#000" stroke-width="2.25" stroke-linejoin="round" stroke-linecap="round"/>
<path d="M58.1 393.0 L69.5 384.8 L80.8 374.8 L92.2 369.8 L103.5 364.0 L114.9 356.5 L126.2 358.5 L137.6 351.0 L149.0 344.0 L160.3 346.5 L171.7 339.8 L183.0 338.0 L194.4 333.5 L205.7 328.5 L217.1 324.8 L228.5 318.8 L239.8 313.8 L251.2 298.8 L262.5 288.8 L273.9 283.8 L285.2 281.2 L296.6 272.0 L308.0 265.0 L319.3 266.2 L330.7 257.5 L342.0 251.2 L353.4 248.3 L364.7 246.7 L376.1 230.7 L387.5 228.6 L398.8 223.8 L410.2 221.5 L421.5 227.0 L432.9 229.0 L444.2 216.3 L455.6 207.5 L467.0 206.2 L478.3 201.2 L489.7 199.5 L501.0 208.8 L512.4 208.8 L523.7 219.0 L535.1 227.2 L546.5 226.2 L557.8 221.2 L569.2 217.8 L580.5 214.0 L591.9 210.8 L603.2 212.2 L614.6 222.5 L625.9 224.5 L637.3 235.0 L648.7 245.0 L660.0 253.8 L671.4 258.8 L682.7 257.0 L694.1 258.2 L705.4 247.5 L716.8 245.5" fill="none" stroke="#ffa500" stroke-width="2.25" stroke-linejoin="round" stroke-linecap="round"/>
<path d="M58.1 344.5 L69.5 331.0 L80.8 320.5 L92.2 315.0 L103.5 306.2 L114.9 300.0 L126.2 300.0 L137.6 307.5 L149.0 299.5 L160.3 302.0 L171.7 297.5 L183.0 295.5 L194.4 297.0 L205.7 286.5 L217.1 291.2 L228.5 286.0 L239.8 280.8 L251.2 279.5 L262.5 282.5 L273.9 283.8 L285.2 282.0 L296.6 281.2 L308.0 283.8 L319.3 285.0 L330.7 283.8 L342.0 279.5 L353.4 282.0 L364.7 284.5 L376.1 282.0 L387.5 277.5 L398.8 270.0 L410.2 264.0 L421.5 265.8 L432.9 256.2 L444.2 248.8 L455.6 243.8 L467.0 238.0 L478.3 225.5 L489.7 217.2 L501.0 218.8 L512.4 216.2 L523.7 212.0 L535.1 207.5 L546.5 202.5 L557.8 199.8 L569.2 206.0 L580.5 201.0 L591.9 203.5 L603.2 204.5 L614.6 203.0 L625.9 210.5 L637.3 208.0 L648.7 218.8 L660.0 224.5 L671.4 228.0 L682.7 220.0 L694.1 222.0 L705.4 223.0 L716.8 221.8" fill="none" stroke="#0000ff" stroke-width="2.25" stroke-linejoin="round" stroke-linecap="round"/>
<path d="M58.1 282.0 L69.5 272.5 L80.8 265.8 L92.2 258.0 L103.5 261.2 L114.9 254.2 L126.2 251.8 L137.6 244.8 L149.0 237.5 L160.3 228.0 L171.7 228.0 L183.0 214.5 L194.4 195.5 L205.7 196.8 L217.1 200.5 L228.5 195.5 L239.8 186.5 L251.2 183.5 L262.5 181.0 L273.9 179.8 L285.2 176.2 L296.6 172.5 L308.0 160.2 L319.3 155.5 L330.7 162.0 L342.0 165.0 L353.4 163.8 L364.7 160.0 L376.1 153.0 L387.5 150.8 L398.8 149.2 L410.2 149.8 L421.5 155.5 L432.9 162.5 L444.2 164.5 L455.6 156.2 L467.0 147.5 L478.3 145.5 L489.7 143.8 L501.0 146.2 L512.4 148.0 L523.7 148.8 L535.1 145.0 L546.5 138.8 L557.8 134.5 L569.2 129.8 L580.5 135.8 L591.9 134.5 L603.2 121.0 L614.6 117.0 L625.9 112.5 L637.3 104.5 L648.7 96.2 L660.0 93.8 L671.4 87.0 L682.7 80.2 L694.1 69.5 L705.4 62.0 L716.8 63.2" fill="none" stroke="#00ff00" stroke-width="2.25" stroke-linejoin="round" stroke-linecap="round"/>
<path d="M58.1 316.2 L69.5 313.2 L80.8 304.2 L92.2 291.8 L103.5 281.2 L114.9 275.0 L126.2 268.0 L137.6 251.2 L149.0 242.0 L160.3 239.0 L171.7 239.0 L183.0 235.8 L194.4 235.0 L205.7 238.0 L217.1 248.8 L228.5 244.2 L239.8 239.5 L251.2 225.0 L262.5 213.8 L273.9 205.2 L285.2 201.2 L296.6 190.0 L308.0 186.2 L319.3 183.5 L330.7 185.5 L342.0 185.5 L353.4 187.0 L364.7 174.5 L376.1 170.5 L387.5 168.0 L398.8 165.5 L410.2 162.8 L421.5 161.2 L432.9 157.5 L444.2 156.8 L455.6 156.2 L467.0 158.2 L478.3 158.8 L489.7 155.8 L501.0 158.0 L512.4 153.0 L523.7 145.0 L535.1 142.0 L546.5 145.0 L557.8 148.0 L569.2 158.0 L580.5 157.0 L591.9 153.5 L603.2 145.5 L614.6 136.2 L625.9 129.5 L637.3 130.8 L648.7 120.0 L660.0 116.2 L671.4 120.2 L682.7 123.2 L694.1 121.5 L705.4 120.8 L716.8 122.5" fill="none" stroke="#a020f0" stroke-width="2.25" stroke-linejoin="round" stroke-linecap="round"/>
<path d="M58.1 369.8 L69.5 355.0 L80.8 347.2 L92.2 336.0 L103.5 328.0 L114.9 332.5 L126.2 328.2 L137.6 326.2 L149.0 321.2 L160.3 312.5 L171.7 300.0 L183.0 290.0 L194.4 286.2 L205.7 275.0 L217.1 271.0 L228.5 268.5 L239.8 265.0 L251.2 262.5 L262.5 259.5 L273.9 255.0 L285.2 250.5 L296.6 248.0 L308.0 245.8 L319.3 245.0 L330.7 243.8 L342.0 242.5 L353.4 242.0 L364.7 241.2 L376.1 240.5 L387.5 235.5 L398.8 235.5 L410.2 228.5 L421.5 225.5 L432.9 221.0 L444.2 218.0 L455.6 213.0 L467.0 207.5 L478.3 203.0 L489.7 196.2 L501.0 197.5 L512.4 197.5 L523.7 194.5 L535.1 186.2 L546.5 185.0 L557.8 177.0 L569.2 180.0 L580.5 175.5 L591.9 171.5 L603.2 164.5 L614.6 153.2 L625.9 142.8 L637.3 138.2 L648.7 134.5 L660.0 130.0 L671.4 131.5 L682.7 130.2 L694.1 134.0 L705.4 140.2 L716.8 139.5" fill="none" stroke="#ffff00" stroke-width="2.25" stroke-linejoin="round" stroke-linecap="round"/>
<path d="M58.1 407.2 L69.5 406.0 L80.8 403.5 L92.2 399.8 L103.5 394.8 L114.9 390.5 L126.2 381.0 L137.6 369.0 L149.0 361.0 L160.3 352.2 L171.7 343.5 L183.0 344.0 L194.4 350.2 L205.7 349.2 L217.1 343.0 L228.5 334.0 L239.8 326.0 L251.2 328.0 L262.5 332.5 L273.9 333.0 L285.2 334.5 L296.6 327.5 L308.0 321.2 L319.3 315.0 L330.7 311.2 L342.0 305.0 L353.4 298.0 L364.7 297.0 L376.1 297.0 L387.5 294.5 L398.8 289.5 L410.2 281.2 L421.5 277.2 L432.9 267.0 L444.2 261.2 L455.6 265.5 L467.0 267.5 L478.3 267.0 L489.7 267.5 L501.0 271.0" fill="none" stroke="#ff0000" stroke-width="4.3" stroke-linejoin="round" stroke-linecap="round"/>
<path d="M501.5 48V449" stroke="#4a4a4a" stroke-width="0.85" fill="none"/>
<text x="506.5" y="273.6" font-size="7" textLength="21" lengthAdjust="spacingAndGlyphs" style="fill:#ff5a5a">17.767</text>
<rect x="47.5" y="47.5" width="681" height="402" fill="none" stroke="#7d7d7d" stroke-width="1"/>
<g stroke="#7d7d7d" stroke-width="1" fill="none">
<path d="M126.5 450V454"/>
<path d="M239.5 450V454"/>
<path d="M353.5 450V454"/>
<path d="M466.5 450V454"/>
<path d="M580.5 450V454"/>
<path d="M694.5 450V454"/>
<path d="M43 424.5H47"/>
<path d="M43 337.5H47"/>
<path d="M43 251.5H47"/>
<path d="M43 164.5H47"/>
<path d="M43 77.5H47"/>
</g>
<text x="126.5" y="464.6" font-size="7" text-anchor="middle" textLength="11.6" lengthAdjust="spacingAndGlyphs">210</text>
<text x="239.5" y="464.6" font-size="7" text-anchor="middle" textLength="11.6" lengthAdjust="spacingAndGlyphs">220</text>
<text x="353.5" y="464.6" font-size="7" text-anchor="middle" textLength="11.6" lengthAdjust="spacingAndGlyphs">230</text>
<text x="466.5" y="464.6" font-size="7" text-anchor="middle" textLength="11.6" lengthAdjust="spacingAndGlyphs">240</text>
<text x="580.5" y="464.6" font-size="7" text-anchor="middle" textLength="11.6" lengthAdjust="spacingAndGlyphs">250</text>
<text x="694.5" y="464.6" font-size="7" text-anchor="middle" textLength="11.6" lengthAdjust="spacingAndGlyphs">260</text>
<text transform="translate(37.5 424.5) rotate(-90)" font-size="7" text-anchor="middle" textLength="7.8" lengthAdjust="spacingAndGlyphs">16</text>
<text transform="translate(37.5 337.5) rotate(-90)" font-size="7" text-anchor="middle" textLength="7.8" lengthAdjust="spacingAndGlyphs">17</text>
<text transform="translate(37.5 251.5) rotate(-90)" font-size="7" text-anchor="middle" textLength="7.8" lengthAdjust="spacingAndGlyphs">18</text>
<text transform="translate(37.5 164.5) rotate(-90)" font-size="7" text-anchor="middle" textLength="7.8" lengthAdjust="spacingAndGlyphs">19</text>
<text transform="translate(37.5 77.5) rotate(-90)" font-size="7" text-anchor="middle" textLength="7.8" lengthAdjust="spacingAndGlyphs">20</text>
<text x="295" y="33.4" font-size="8.5" font-weight="bold" textLength="184.4" lengthAdjust="spacingAndGlyphs">Antarctic Sea Ice Extent Day 243 1978 to 2018</text>
<text x="370" y="481" font-size="7" textLength="35.2" lengthAdjust="spacingAndGlyphs">Day of Year</text>
<text x="235" y="489.9" font-size="7" textLength="305" lengthAdjust="spacingAndGlyphs" xml:space="preserve">Today's Ice Extent: 17.767  - Record for the day: 19.205 which occurred on 2014 8 31  - Mean: 18.23</text>
<text x="13" y="482.5" font-size="14" textLength="224" lengthAdjust="spacingAndGlyphs">http://sunshinehours.wordpress.com</text>
<text transform="translate(21 295.7) rotate(-90)" font-size="7" textLength="96.2" lengthAdjust="spacingAndGlyphs">Ice Extent in millions of sq. km.</text>
<rect x="598.5" y="356.5" width="130" height="93" fill="#fff" stroke="#7d7d7d" stroke-width="1"/>
<path d="M604.5 364.8H617.5" stroke="#ff0000" stroke-width="3.5" stroke-linecap="round"/>
<text x="623.6" y="367.4" font-size="7" textLength="14.8" lengthAdjust="spacingAndGlyphs">2018</text>
<path d="M603.5 373.2H618.5" stroke="#000" stroke-width="2.6" stroke-dasharray="4 5"/>
<text x="623.6" y="375.8" font-size="7" textLength="52" lengthAdjust="spacingAndGlyphs">Mean 1981-2010</text>
<path d="M605 381.7H617" stroke="#d3d3d3" stroke-width="8" stroke-linecap="round"/>
<text x="623.6" y="384.3" font-size="7" textLength="101.5" lengthAdjust="spacingAndGlyphs">1 Standard Deviation From Mean</text>
<path d="M604.5 390.2H617.5" stroke="#000" stroke-width="2.4" stroke-linecap="round"/>
<text x="623.6" y="392.8" font-size="7" textLength="14.8" lengthAdjust="spacingAndGlyphs">2017</text>
<path d="M604.5 398.5H617.5" stroke="#ffa500" stroke-width="2.4" stroke-linecap="round"/>
<text x="623.6" y="401.1" font-size="7" textLength="14.8" lengthAdjust="spacingAndGlyphs">2016</text>
<path d="M604.5 407.0H617.5" stroke="#0000ff" stroke-width="2.4" stroke-linecap="round"/>
<text x="623.6" y="409.6" font-size="7" textLength="14.8" lengthAdjust="spacingAndGlyphs">2015</text>
<path d="M604.5 415.3H617.5" stroke="#00ff00" stroke-width="2.4" stroke-linecap="round"/>
<text x="623.6" y="417.9" font-size="7" textLength="14.8" lengthAdjust="spacingAndGlyphs">2014</text>
<path d="M604.5 423.8H617.5" stroke="#a020f0" stroke-width="2.4" stroke-linecap="round"/>
<text x="623.6" y="426.4" font-size="7" textLength="14.8" lengthAdjust="spacingAndGlyphs">2013</text>
<path d="M604.5 432.1H617.5" stroke="#ffff00" stroke-width="2.4" stroke-linecap="round"/>
<text x="623.6" y="434.7" font-size="7" textLength="14.8" lengthAdjust="spacingAndGlyphs">2012</text>
<path d="M603.5 441.0H618.5" stroke="#999" stroke-width="1"/>
<text x="623.6" y="443.6" font-size="7" textLength="51" lengthAdjust="spacingAndGlyphs">Every Other Year</text>
</svg></body></html>
